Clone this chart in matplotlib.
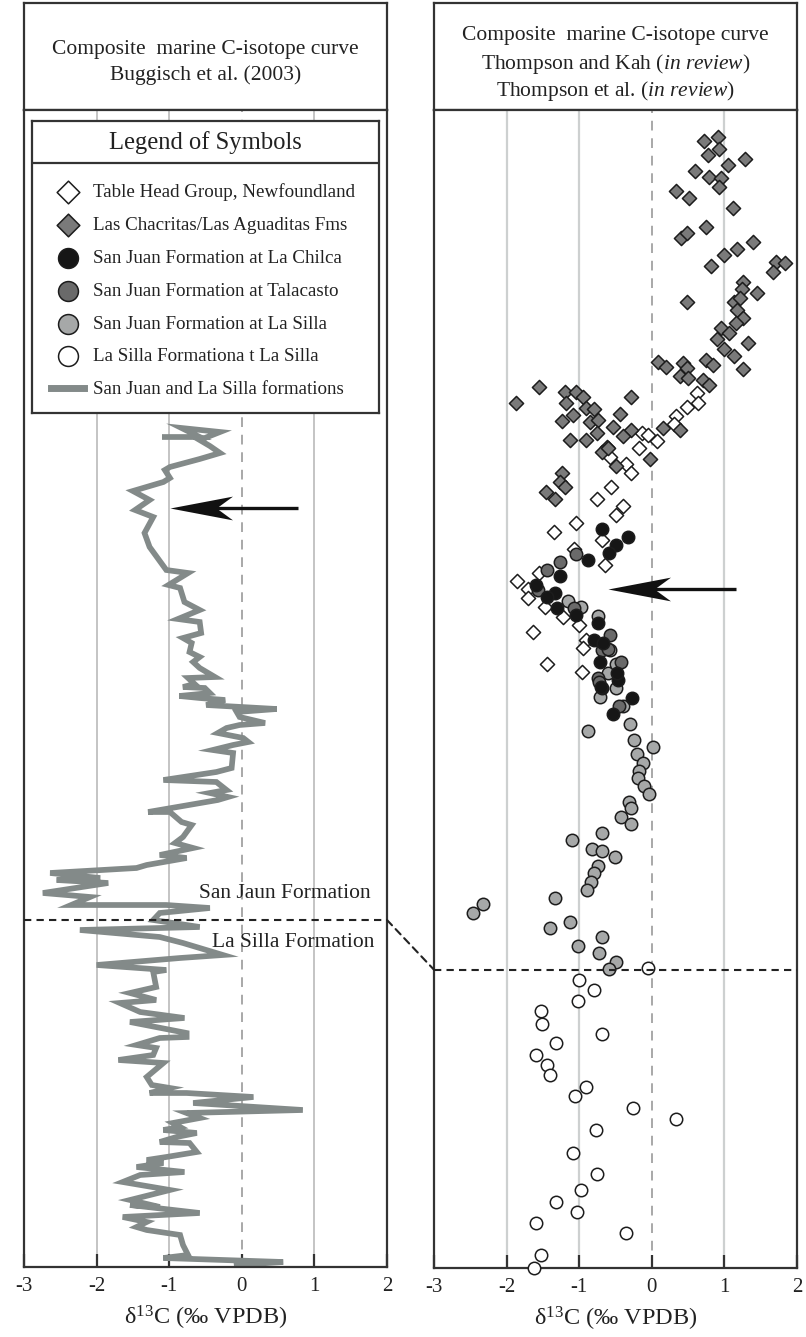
import matplotlib
matplotlib.use("Agg")
import matplotlib.pyplot as plt
from matplotlib.patches import ConnectionPatch
from matplotlib.path import Path

plt.rcParams['font.family'] = ['Liberation Serif', 'DejaVu Serif']
plt.rcParams['mathtext.fontset'] = 'custom'
plt.rcParams['mathtext.rm'] = 'Liberation Serif'
plt.rcParams['mathtext.it'] = 'Liberation Serif:italic'

# ---------------------------------------------------------------- data
# Buggisch et al. (2003) composite curve: d13C (per mil) vs. stratigraphic level
LEFT_D13C = [-1.06, -0.58, -0.83, -0.30, -0.58, -0.44, -0.30, -0.58, -0.99, -1.06,
             -0.99, -1.08, -1.50, -1.27, -1.47, -1.22, -1.34, -1.27, -1.04, -0.74,
             -1.01, -0.85, -0.79, -0.58, -0.88, -0.58, -0.56, -0.81, -0.69, -0.72,
             -0.58, -0.67, -0.58, -0.37, -0.74, -0.65, -0.81, -0.51, -0.44, -0.86,
             -0.58, -0.23, -0.49, 0.48, -0.07, -0.03, 0.32, -0.03, -0.21, -0.33,
             0.02, 0.09, -0.12, -0.40, -0.12, -0.14, -0.35, -1.08, -0.35, -0.21,
             -0.44, -0.19, -0.33, -1.29, -0.99, -0.83, -0.69, -0.76, -0.81, -0.92,
             -0.67, -1.13, -0.76, -1.31, -1.45, -2.64, -1.95, -2.55, -1.84, -2.74,
             -2.09, -2.35, -1.04, -0.44, -1.13, -1.22, -0.58, -2.23, -1.13, -0.81,
             -0.26, -0.85, -2.00, -1.04, -1.22, -1.18, -1.54, -1.18, -1.68, -1.40,
             -0.79, -1.54, -0.76, -0.76, -1.13, -1.45, -1.18, -1.22, -1.70, -1.08,
             -1.31, -1.24, -0.99, -1.27, -0.76, 0.16, -0.67, 0.84, -0.76, -0.58,
             -0.95, -0.85, -1.08, -0.62, -0.90, -1.13, -0.72, -0.62, -1.04, -1.31,
             -1.08, -1.45, -0.79, -1.40, -1.64, -0.99, -1.54, -1.13, -1.54, -0.58,
             -1.64, -1.31, -1.45, -1.31, -0.85, -0.81, -0.74, -1.08, 0.57, -0.07]
LEFT_LEVEL = [830, 830, 839, 835, 827, 821, 814, 808, 800, 797,
              789, 785, 776, 767, 757, 750, 734, 720, 697, 694,
              682, 679, 665, 657, 648, 645, 634, 629, 624, 615,
              610, 605, 599, 590, 589, 583, 580, 579, 574, 571,
              569, 567, 562, 558, 555, 550, 544, 542, 539, 534,
              529, 525, 522, 517, 514, 499, 495, 487, 485, 477,
              474, 470, 467, 455, 455, 445, 442, 435, 430, 424,
              419, 412, 409, 402, 399, 394, 389, 387, 384, 374,
              370, 362, 362, 359, 354, 347, 340, 337, 330, 324,
              312, 309, 302, 297, 295, 280, 274, 267, 264, 255,
              249, 245, 234, 230, 229, 222, 219, 212, 207, 204,
              190, 182, 179, 174, 174, 170, 164, 157, 154, 149,
              144, 140, 137, 134, 130, 125, 124, 115, 110, 107,
              104, 100, 95, 92, 85, 77, 67, 60, 62, 54,
              50, 45, 40, 37, 32, 22, 12, 9, 5, 2]

# Thompson and Kah / Thompson et al. composite: one pair of arrays per unit
TABLE_HEAD_D13C = [0.62, 0.64, 0.48, 0.34, 0.30, -0.13, -0.05, 0.07, -0.17, -0.57,
                   -0.35, -0.29, -0.56, -0.76, -0.39, -0.50, -1.05, -1.35, -0.68, -1.07,
                   -0.65, -1.85, -1.55, -1.71, -1.70, -1.47, -1.23, -1.00, -1.64, -0.91,
                   -0.95, -1.45, -0.96]
TABLE_HEAD_LEVEL = [874, 864, 860, 851, 843, 834, 832, 826, 819, 810,
                    803, 794, 780, 768, 761, 752, 744, 735, 727, 718,
                    702, 686, 694, 678, 669, 660, 650, 642, 635, 627,
                    619, 603, 595]

CHACRITAS_D13C = [0.72, 0.91, 0.78, 0.92, 1.05, 1.29, 0.59, 0.79, 0.96, 0.92,
                  0.34, 0.51, 1.12, 0.75, 0.40, 0.49, 1.40, 1.17, 1.00, 0.81,
                  1.71, 1.83, 1.67, 1.25, 1.24, 1.45, 1.13, 0.49, 1.21, 1.17,
                  1.26, 1.16, 0.96, 1.07, 0.90, 1.33, 1.00, 1.13, 1.25, 0.09,
                  0.20, 0.43, 0.48, 0.75, 0.84, 0.39, 0.50, 0.70, 0.79, -1.56,
                  -1.87, -1.20, -1.04, -0.95, -1.18, -0.29, -0.90, -0.80, -1.09, -1.24,
                  -0.85, -0.74, -0.44, -0.54, -0.28, -0.76, -1.13, -0.91, -0.40, 0.15,
                  0.39, -0.62, -0.68, -0.60, -0.50, -0.03, -1.24, -1.27, -1.19, -1.46,
                  -1.34]
CHACRITAS_LEVEL = [1126, 1130, 1112, 1118, 1102, 1108, 1096, 1090, 1089, 1080,
                   1076, 1069, 1059, 1040, 1029, 1034, 1025, 1018, 1012, 1001,
                   1005, 1004, 995, 985, 978, 974, 965, 965, 969, 957,
                   949, 944, 939, 934, 928, 924, 918, 911, 898, 905,
                   900, 904, 899, 907, 902, 891, 889, 887, 882, 880,
                   864, 875, 875, 870, 864, 870, 859, 858, 852, 846,
                   845, 847, 853, 840, 837, 834, 827, 827, 831, 839,
                   837, 820, 815, 819, 801, 808, 794, 785, 780, 775,
                   768]

CHILCA_D13C = [-0.69, -0.33, -0.50, -0.59, -0.88, -1.27, -1.59, -1.34, -1.45, -1.30,
               -1.04, -0.74, -0.79, -0.72, -0.46, -0.69, -0.27, -0.54, -0.48, -0.67,
               -0.70]
CHILCA_LEVEL = [738, 730, 722, 714, 707, 691, 682, 674, 670, 659,
                652, 644, 627, 605, 587, 579, 570, 554, 594, 624,
                580]

TALACASTO_D13C = [-1.27, -1.45, -1.57, -1.04, -1.07, -0.57, -0.74, -0.42, -0.69, -0.61,
                  -0.45, -0.73]
TALACASTO_LEVEL = [705, 697, 677, 713, 659, 632, 589, 605, 617, 618,
                   562, 585]

SILLA_SJ_D13C = [-1.15, -0.97, -0.74, -0.58, -0.60, -0.49, -0.72, -0.39, -0.30, -0.88,
                 -0.49, -0.25, 0.02, -0.21, -0.12, -0.17, -0.19, -0.11, -0.04, -0.31,
                 -0.29, -0.42, -0.29, -0.68, -1.10, -0.82, -0.68, -0.51, -0.74, -0.79,
                 -0.84, -0.89, -1.34, -2.32, -2.46, -1.12, -1.40, -0.68, -1.02, -0.73,
                 -0.50, -0.59]
SILLA_SJ_LEVEL = [666, 660, 651, 617, 594, 579, 571, 562, 544, 537,
                  603, 528, 521, 514, 505, 497, 490, 482, 474, 466,
                  460, 451, 444, 435, 428, 419, 417, 411, 402, 395,
                  386, 378, 370, 364, 355, 346, 340, 331, 322, 315,
                  306, 299]

SILLA_FM_D13C = [-0.05, -1.00, -0.79, -1.02, -1.52, -1.51, -0.68, -1.32, -1.60, -1.44,
                 -1.40, -0.90, -1.06, -0.26, 0.33, -0.77, -1.08, -0.76, -0.97, -1.32,
                 -1.03, -1.60, -0.36, -1.52, -1.62]
SILLA_FM_LEVEL = [300, 288, 278, 267, 257, 244, 234, 225, 213, 203,
                  193, 181, 172, 160, 149, 138, 115, 94, 78, 66,
                  56, 45, 35, 13, 0]

# San Juan / La Silla boundary level in each column
BOUNDARY_LEFT = 347
BOUNDARY_RIGHT = 298

# highlighted excursion in each column: (arrow tail, arrow tip, level)
ARROW_LEFT = (0.77, -0.99, 759)
ARROW_RIGHT = (1.16, -0.61, 678)

TICKS = [-3, -2, -1, 0, 1, 2]
TICK_LABELS = ['-3', '-2', '-1', '0', '1', '2']
GRID_SOLID = [-2, -1, 1]

LEGEND_LABELS = ['Table Head Group, Newfoundland',
                 'Las Chacritas/Las Aguaditas Fms',
                 'San Juan Formation at La Chilca',
                 'San Juan Formation at Talacasto',
                 'San Juan Formation at La Silla',
                 'La Silla Formationa t La Silla',
                 'San Juan and La Silla formations']

# ---------------------------------------------------------------- layout
W, H = 806, 1337
fig = plt.figure(figsize=(W / 100, H / 100), dpi=100)


def rect(x0, y0, x1, y1):
    return [x0 / W, 1 - y1 / H, (x1 - x0) / W, (y1 - y0) / H]


TEXT = '#222222'
FRAME = '#333333'
CURVE = '#838a89'


def style_axes(ax):
    for s in ax.spines.values():
        s.set_linewidth(1.6)
        s.set_color(FRAME)


def header(box, lines):
    hx = fig.add_axes(box)
    hx.set_xticks([])
    hx.set_yticks([])
    style_axes(hx)
    for text, y in lines:
        hx.text(0.5, y, text, ha='center', va='center', fontsize=15.5,
                color=TEXT, transform=hx.transAxes)
    return hx


def data_axes(box):
    ax = fig.add_axes(box)
    style_axes(ax)
    ax.set_xlim(TICKS[0], TICKS[-1])
    ax.set_ylim(0, 1157)
    ax.set_yticks([])
    ax.set_xticks(TICKS)
    ax.set_xticklabels(TICK_LABELS)
    ax.tick_params(axis='x', direction='in', length=9.5, width=1.6,
                   color=FRAME, labelsize=15, labelcolor=TEXT, pad=7)
    ax.set_xlabel(r'δ$^{13}$C (‰ VPDB)', fontsize=17.5, color=TEXT, labelpad=6)
    return ax


def arrow(ax, tail, tip, level):
    # shaft plus a swept-back arrow head drawn as a custom marker
    head = Path([(0, 0), (1, 0.19), (0.74, 0), (1, -0.19), (0, 0)],
                [Path.MOVETO, Path.LINETO, Path.LINETO, Path.LINETO, Path.CLOSEPOLY])
    ax.plot([tail, tip + 0.6], [level, level], color='#111111', lw=2.4,
            solid_capstyle='butt', zorder=6)
    ax.plot([tip], [level], marker=head, ms=90, color='#111111',
            markeredgewidth=0, zorder=7)


# left column ----------------------------------------------------------
header(rect(24, 3, 387, 110),
       [('Composite  marine C-isotope curve', 0.57),
        ('Buggisch et al. (2003)', 0.33)])
axL = data_axes(rect(24, 110, 387, 1267))
for g in GRID_SOLID:
    axL.axvline(g, color='#b4b4b4', lw=1.1, zorder=0.5)
axL.axvline(0, color='#a8a8a8', lw=1.4, dashes=(5, 4), zorder=0.5)
curve, = axL.plot(LEFT_D13C, LEFT_LEVEL, color=CURVE, lw=4.1,
                  solid_joinstyle='miter', zorder=2)
axL.axhline(BOUNDARY_LEFT, color='#222222', lw=1.5, dashes=(3.5, 2.5), zorder=4)
axL.text(1.78, BOUNDARY_LEFT + 26, 'San Jaun Formation', ha='right', va='center',
         fontsize=15.5, color=TEXT, zorder=5)
axL.text(1.83, BOUNDARY_LEFT - 23, 'La Silla Formation', ha='right', va='center',
         fontsize=15.5, color=TEXT, zorder=5)
arrow(axL, *ARROW_LEFT)

# right column ---------------------------------------------------------
header(rect(434, 3, 797, 110),
       [('Composite  marine C-isotope curve', 0.70),
        (r'Thompson and Kah ($\it{in\ review}$)', 0.43),
        (r'Thompson et al. ($\it{in\ review}$)', 0.175)])
axR = data_axes(rect(434, 110, 797, 1268))
for g in GRID_SOLID:
    axR.axvline(g, color='#cdd0d0', lw=1.6, zorder=0.5)
axR.axvline(0, color='#a8a8a8', lw=1.4, dashes=(5, 4), zorder=0.5)

dia = dict(marker='D', s=52, linewidths=1.1, edgecolors='#1c1c1c', clip_on=False)
circ = dict(marker='o', s=80, linewidths=1.1, edgecolors='#1c1c1c', clip_on=False)
h_th = axR.scatter(TABLE_HEAD_D13C, TABLE_HEAD_LEVEL, facecolors='white', zorder=3, **dia)
h_lc = axR.scatter(CHACRITAS_D13C, CHACRITAS_LEVEL, facecolors='#7a7a7a', zorder=3, **dia)
h_ls = axR.scatter(SILLA_SJ_D13C, SILLA_SJ_LEVEL, facecolors='#a6a8a8', zorder=3, **circ)
h_ta = axR.scatter(TALACASTO_D13C, TALACASTO_LEVEL, facecolors='#6a6a6a', zorder=3, **circ)
h_ch = axR.scatter(CHILCA_D13C, CHILCA_LEVEL, facecolors='#161616', zorder=3, **circ)
h_lf = axR.scatter(SILLA_FM_D13C, SILLA_FM_LEVEL, facecolors='white', zorder=3, **circ)
axR.axhline(BOUNDARY_RIGHT, color='#222222', lw=1.5, dashes=(3.5, 2.5), zorder=4)
arrow(axR, *ARROW_RIGHT)

# dashed tie line between the two boundary levels
tie = ConnectionPatch(xyA=(TICKS[-1], BOUNDARY_LEFT), coordsA=axL.transData,
                      xyB=(TICKS[0], BOUNDARY_RIGHT), coordsB=axR.transData,
                      color='#222222', lw=1.5, linestyle=(0, (3.5, 2.5)))
fig.add_artist(tie)

# legend box -----------------------------------------------------------
axLeg = fig.add_axes(rect(32, 121, 379, 413))
axLeg.set_xticks([])
axLeg.set_yticks([])
style_axes(axLeg)
axLeg.set_zorder(10)
axLeg.text(0.5, (413 - 143) / 292, 'Legend of Symbols', ha='center', va='center',
           fontsize=17.7, color=TEXT)
axLeg.axhline((413 - 163) / 292, color=FRAME, lw=1.6)
leg = axLeg.legend([h_th, h_lc, h_ch, h_ta, h_ls, h_lf, curve], LEGEND_LABELS,
                   loc='upper left', bbox_to_anchor=((51 - 32) / 347, (413 - 183) / 292),
                   frameon=False, fontsize=13.7, markerscale=1.6, scatterpoints=1,
                   handlelength=1.75, handletextpad=0.45, labelspacing=0.82,
                   borderpad=0, borderaxespad=0, labelcolor=TEXT)
leg.get_lines()[0].set_linewidth(5)

fig.savefig('out.png', dpi=100)
